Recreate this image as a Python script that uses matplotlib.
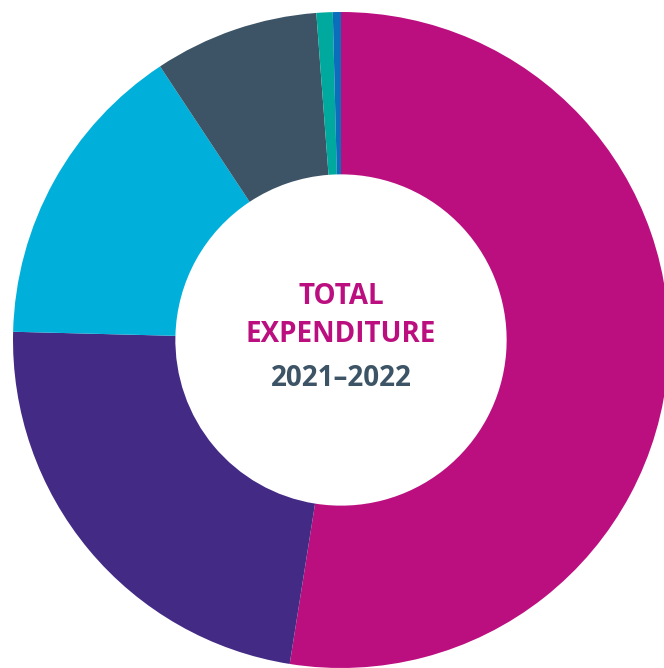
import matplotlib.pyplot as plt

# expenditure shares (%), clockwise from 12 o'clock
categories = ["A", "B", "C", "D", "E", "F"]
shares = [52.5, 22.9, 15.3, 8.1, 0.8, 0.4]
colors = ["#BB0F80", "#432A85", "#00B0DA", "#3C5466", "#00A99D", "#0A6EBD"]

W, H = 664, 668
cx, cy, r = 341, 340, 328  # pixel centre and radius of the donut

fig = plt.figure(figsize=(W / 100, H / 100), dpi=100)
ax = fig.add_axes([0, 0, 1, 1])
ax.pie(shares, colors=colors, startangle=90, counterclock=False, radius=1,
       wedgeprops=dict(width=0.495, linewidth=0))
ax.set_xlim(-cx / r, (W - cx) / r)
ax.set_ylim(-(H - cy) / r, cy / r)
ax.set_aspect("equal")
ax.axis("off")

font = dict(family=["Open Sans", "DejaVu Sans"], fontweight="bold",
            fontsize=20, ha="center", va="center")
ax.text(0, (cy - 296) / r, "TOTAL", color="#BB0F80", **font)
ax.text(0, (cy - 335) / r, "EXPENDITURE", color="#BB0F80", **font)
ax.text(0, (cy - 379) / r, "2021\u20132022", color="#3C5466", **font)

fig.savefig("out.png", dpi=100)
